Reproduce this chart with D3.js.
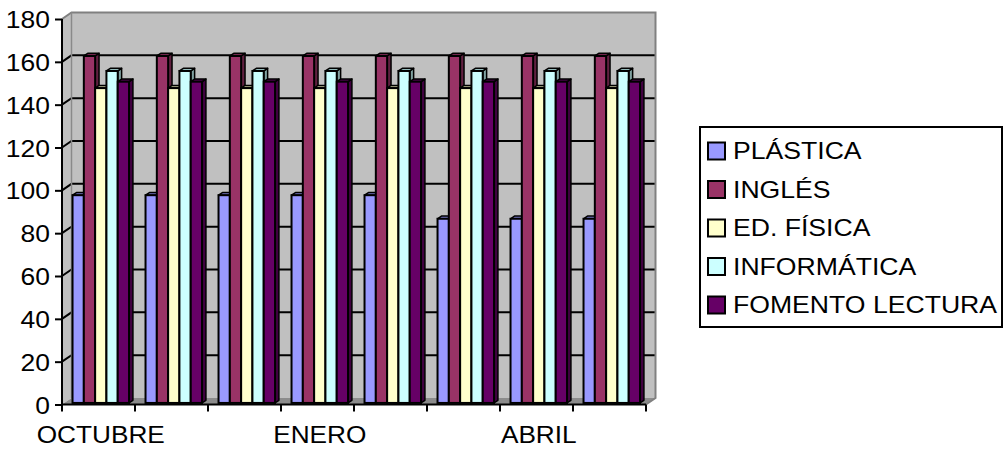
<!DOCTYPE html>
<html>
<head>
<meta charset="utf-8">
<script src="https://cdn.jsdelivr.net/npm/d3@7"></script>
<style>
  html, body { margin: 0; padding: 0; background: #fff; }
  svg { display: block; font-family: "Liberation Sans", Arial, sans-serif; }
</style>
</head>
<body>
<svg id="chart" width="1004" height="449"></svg>
<script>
// ---- data ----
const categories = ["OCTUBRE", "NOVIEMBRE", "DICIEMBRE", "ENERO", "FEBRERO", "MARZO", "ABRIL", "MAYO"];
const shownLabels = ["OCTUBRE", "ENERO", "ABRIL"];
const seriesNames = ["PLÁSTICA", "INGLÉS", "ED. FÍSICA", "INFORMÁTICA", "FOMENTO LECTURA"];
const plastica    = [97, 97, 97, 97, 97, 86, 86, 86];
const ingles      = [162, 162, 162, 162, 162, 162, 162, 162];
const edFisica    = [147, 147, 147, 147, 147, 147, 147, 147];
const informatica = [155, 155, 155, 155, 155, 155, 155, 155];
const fomento     = [150, 150, 150, 150, 150, 150, 150, 150];
const yTicks = [0, 20, 40, 60, 80, 100, 120, 140, 160, 180];
const seriesColors = ["#9999FF", "#993366", "#FFFFCC", "#CCFFFF", "#660066"];

const seriesValues = [plastica, ingles, edFisica, informatica, fomento];

// ---- layout ----
const svg = d3.select("#chart");
const X0 = 62, X1 = 646, Y0 = 404.5, YT = 19;
const DX = 9.5, DY = -6.5;              // wall depth
const F0 = 0.24, F1 = 0.65;             // bar depth fractions

const x = d3.scaleBand().domain(categories).range([X0, X1]).paddingInner(0).paddingOuter(0);
const xs = d3.scaleBand().domain(seriesNames).range([0, x.bandwidth()]).paddingInner(0).paddingOuter(0.73);
const y = d3.scaleLinear().domain([0, 180]).range([Y0, YT]);

const g = svg.append("g");

// side (left) wall
g.append("path")
  .attr("d", `M${X0},${y(180)} L${X0+DX},${y(180)+DY} L${X0+DX},${Y0+DY} L${X0},${Y0} Z`)
  .attr("fill", "#c0c0c0").attr("stroke", "none");
// back wall
g.append("rect")
  .attr("x", X0 + DX).attr("y", y(180) + DY)
  .attr("width", (X1 + DX) - (X0 + DX)).attr("height", (Y0 + DY) - (y(180) + DY))
  .attr("fill", "#c0c0c0");
// floor
g.append("path")
  .attr("d", `M${X0},${Y0} L${X0+DX},${Y0+DY} L${X1+DX},${Y0+DY} L${X1},${Y0} Z`)
  .attr("fill", "#8c8c8c");

// gridlines
yTicks.filter(v => v > 0 && v < 180).forEach(v => {
  g.append("path")
    .attr("d", `M${X0},${y(v)} L${X0+DX},${y(v)+DY} L${X1+DX},${y(v)+DY}`)
    .attr("fill", "none").attr("stroke", "#000").attr("stroke-width", 2);
});
// wall borders (gray)
g.append("path")
  .attr("d", `M${X0},${y(180)} L${X0+DX},${y(180)+DY} L${X1+DX},${y(180)+DY} L${X1+DX},${Y0+DY} L${X1},${Y0}`)
  .attr("fill", "none").attr("stroke", "#808080").attr("stroke-width", 2);
g.append("path")
  .attr("d", `M${X0+DX},${y(180)+DY} L${X0+DX},${Y0+DY}`)
  .attr("fill", "none").attr("stroke", "#8a8a8a").attr("stroke-width", 1.5);

// bars
const bx0 = DX * F0, by0 = DY * F0;
const bdx = DX * (F1 - F0), bdy = DY * (F1 - F0);
const barsG = g.append("g");
categories.forEach((c, ci) => {
  seriesNames.forEach((s, si) => {
    const v = seriesValues[si][ci];
    const col = d3.color(seriesColors[si]);
    const L = x(c) + xs(s) + bx0;
    const R = L + xs.bandwidth();
    const B = Y0 + by0;
    const T = y(v) + by0;
    const bg = barsG.append("g");
    // side face
    bg.append("path")
      .attr("d", `M${R},${B} L${R+bdx},${B+bdy} L${R+bdx},${T+bdy} L${R},${T} Z`)
      .attr("fill", col.darker(1.3)).attr("stroke", "#000").attr("stroke-width", 1.5).attr("stroke-linejoin", "round");
    // top face
    bg.append("path")
      .attr("d", `M${L},${T} L${L+bdx},${T+bdy} L${R+bdx},${T+bdy} L${R},${T} Z`)
      .attr("fill", col.darker(0.8)).attr("stroke", "#000").attr("stroke-width", 1.5).attr("stroke-linejoin", "round");
    // front face
    bg.append("rect")
      .attr("x", L).attr("y", T).attr("width", R - L).attr("height", B - T)
      .attr("fill", col).attr("stroke", "#000").attr("stroke-width", 2);
  });
});

// front axes
const yAxis = d3.axisLeft(y).tickValues(yTicks).tickSize(7).tickPadding(5).tickFormat(d3.format("d"));
const yAxisG = svg.append("g").attr("transform", `translate(${X0},0)`).call(yAxis);
yAxisG.select(".domain").attr("stroke", "#000").attr("stroke-width", 2).attr("d", `M0,${YT}V${Y0}`);
yAxisG.selectAll(".tick line").attr("stroke", "#000").attr("stroke-width", 2);
yAxisG.selectAll(".tick text")
  .attr("fill", "#000").attr("font-size", 24.5).attr("font-family", "Liberation Sans, Arial, sans-serif")
  .attr("dy", "0.35em");
yAxisG.selectAll(".tick text").each(function() {
  const t = d3.select(this);
  const xx = +t.attr("x");
  t.attr("x", xx / 1.08).attr("transform", "scale(1.08,1)");
});

// bottom axis
const bottom = svg.append("g");
bottom.append("line").attr("x1", X0).attr("x2", X1).attr("y1", Y0).attr("y2", Y0)
  .attr("stroke", "#000").attr("stroke-width", 2);
const bounds = categories.map(c => x(c)).concat([X1]);
bottom.selectAll("line.tk").data(bounds).enter().append("line").attr("class", "tk")
  .attr("x1", d => d).attr("x2", d => d).attr("y1", Y0).attr("y2", Y0 + 7)
  .attr("stroke", "#000").attr("stroke-width", 2);
bottom.selectAll("text.cat").data(shownLabels).enter().append("text").attr("class", "cat")
  .attr("transform", d => `translate(${x(d) + x.bandwidth() / 2 + bx0},442.5) scale(1.07,1)`)
  .attr("text-anchor", "middle").attr("font-size", 24.5).attr("fill", "#000")
  .text(d => d);

// legend
const leg = svg.append("g");
leg.append("rect").attr("x", 700).attr("y", 127).attr("width", 302).attr("height", 200)
  .attr("fill", "#fff").attr("stroke", "#000").attr("stroke-width", 2);
const li = leg.selectAll("g.li").data(seriesNames).enter().append("g").attr("class", "li")
  .attr("transform", (d, i) => `translate(0,${151 + i * 38.5})`);
li.append("rect").attr("x", 708).attr("y", -8.5).attr("width", 17).attr("height", 17)
  .attr("fill", (d, i) => seriesColors[i]).attr("stroke", "#000").attr("stroke-width", 2);
li.append("text")
  .attr("transform", "translate(733,8.3) scale(1.157,1)")
  .attr("font-size", 23).attr("fill", "#000")
  .text(d => d);
</script>
</body>
</html>
